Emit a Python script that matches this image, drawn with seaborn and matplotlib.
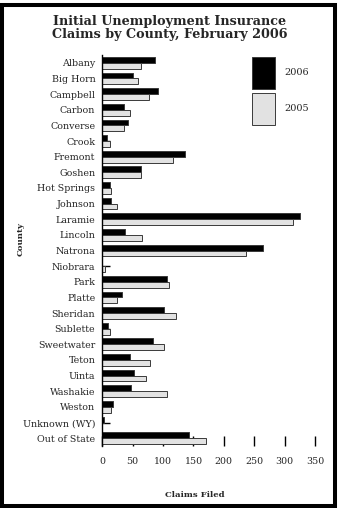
import matplotlib
matplotlib.use("Agg")
import matplotlib.pyplot as plt
from matplotlib.patches import Rectangle
import pandas as pd
import seaborn as sns

counties = ["Albany", "Big Horn", "Campbell", "Carbon", "Converse", "Crook",
            "Fremont", "Goshen", "Hot Springs", "Johnson", "Laramie", "Lincoln",
            "Natrona", "Niobrara", "Park", "Platte", "Sheridan", "Sublette",
            "Sweetwater", "Teton", "Uinta", "Washakie", "Weston",
            "Unknown (WY)", "Out of State"]
claims_2006 = [87, 51, 92, 35, 43, 8, 136, 63, 13, 15, 326, 37, 264, 0,
               107, 32, 101, 9, 83, 45, 52, 48, 18, 3, 143]
claims_2005 = [63, 58, 77, 46, 36, 13, 117, 64, 15, 25, 313, 66, 236, 5,
               109, 25, 121, 12, 102, 79, 72, 106, 15, 0, 171]
years = ["2006", "2005"]
x_ticks = [0, 50, 100, 150, 200, 250, 300, 350]

df = pd.DataFrame({
    "County": counties * 2,
    "Claims": claims_2006 + claims_2005,
    "Year": ["2006"] * len(counties) + ["2005"] * len(counties),
})

sns.set_theme(style="white")
plt.rcParams["font.family"] = ["DejaVu Serif"]

W, H = 341, 508
fig = plt.figure(figsize=(W / 100, H / 100), dpi=100)
ax = fig.add_axes([102.3 / W, 1 - 446 / H, (315 - 102.3) / W, (446 - 55) / H])

sns.barplot(data=df, y="County", x="Claims", hue="Year", hue_order=years,
            palette={"2006": "#000000", "2005": "#e2e2e2"}, orient="h",
            width=0.75, ax=ax, edgecolor="#3a3a3a", linewidth=0.7,
            errorbar=None, legend=True)

ax.set_xlim(0, 350)
ax.set_ylim(len(counties) - 0.5, -0.5)
ax.set_xticks(x_ticks)
ax.set_xticklabels([str(t) for t in x_ticks])

for s in ["top", "right", "bottom"]:
    ax.spines[s].set_visible(False)
ax.spines["left"].set_color("black")
ax.spines["left"].set_linewidth(1.0)

ax.tick_params(axis="x", direction="in", length=7.5, width=1.0, color="black",
               pad=8, labelsize=6.8, bottom=True)
ax.tick_params(axis="y", direction="in", length=6, width=1.0, color="black",
               pad=5, labelsize=6.8, left=True)

ax.set_xlabel("Claims Filed", fontsize=6.1, fontweight="bold")
ax.xaxis.set_label_coords(0.436, -0.115)
ax.set_ylabel("County", fontsize=6.1, fontweight="bold")
ax.yaxis.set_label_coords(-0.365, 0.53)

handles, labels = ax.get_legend_handles_labels()
ax.legend(handles, labels, loc="upper left",
          bbox_to_anchor=(252 / W, 1 - 57 / H), bbox_transform=fig.transFigure,
          frameon=False, fontsize=7, handlelength=2.37, handleheight=4.69,
          labelspacing=0.36, handletextpad=1.0, borderpad=0, borderaxespad=0)

fig.text(170 / W, 1 - 28 / H,
         "Initial Unemployment Insurance\nClaims by County, February 2006",
         ha="center", va="center", fontsize=9.2, fontweight="bold",
         linespacing=1.05)

fig.patches.append(Rectangle((2 / W, 2 / H), 333 / W, 501 / H,
                             transform=fig.transFigure, fill=False,
                             edgecolor="black", linewidth=2.9))

fig.savefig("out.png", dpi=100)
